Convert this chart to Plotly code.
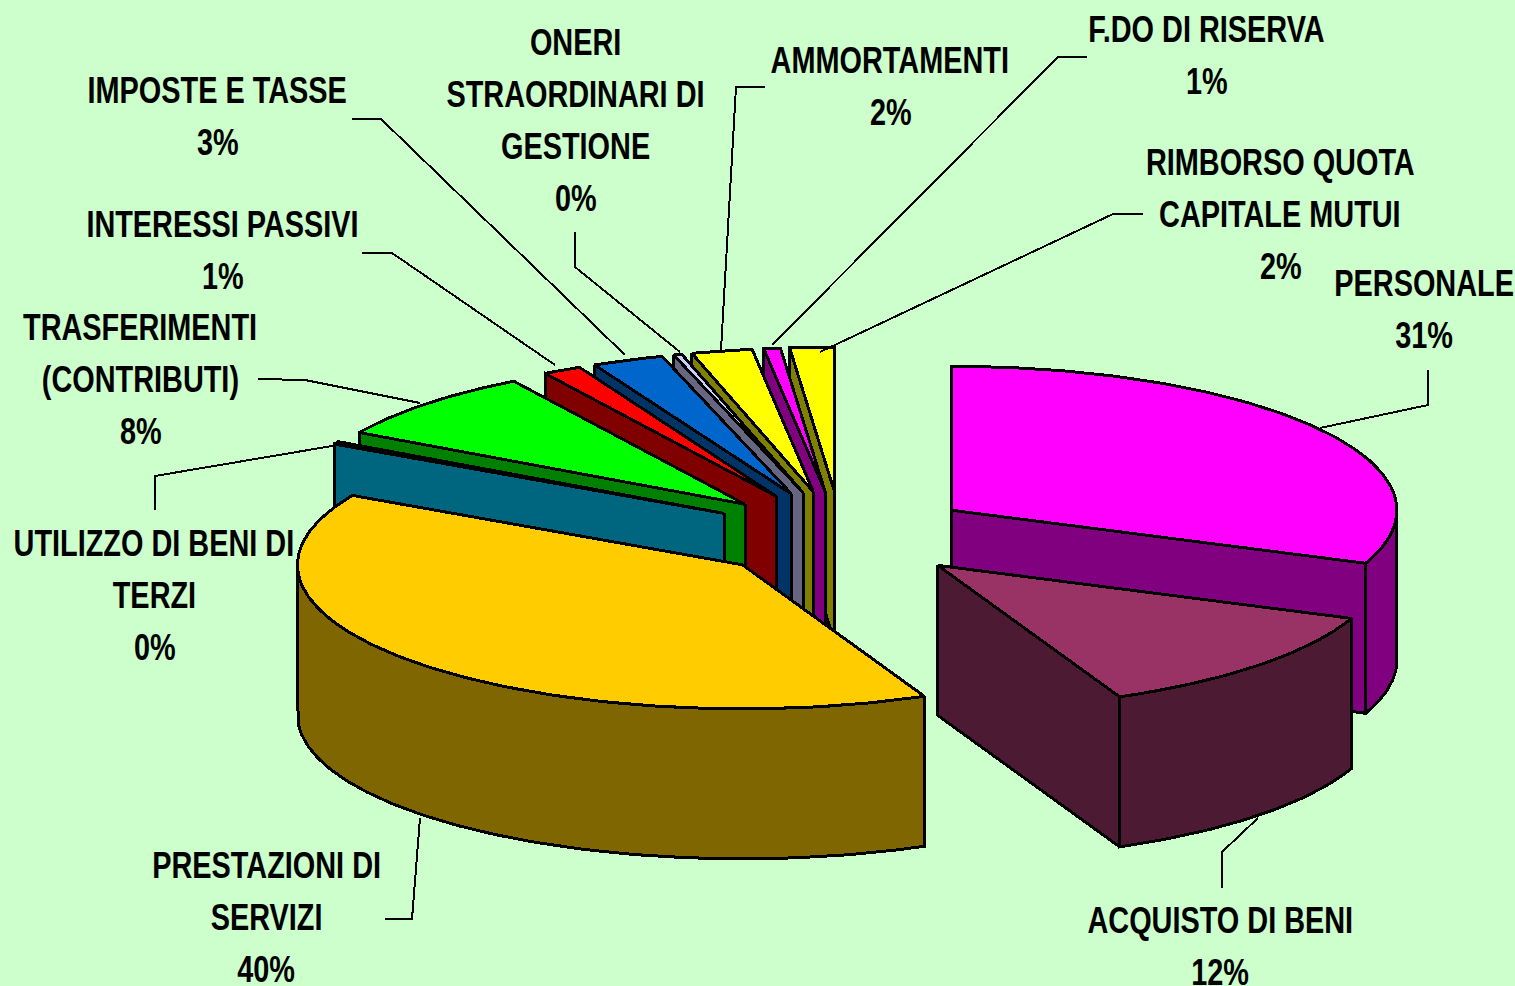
import math
import plotly.graph_objects as go

categories = ["PERSONALE", "ACQUISTO DI BENI", "PRESTAZIONI DI SERVIZI", "UTILIZZO DI BENI DI TERZI",
              "TRASFERIMENTI (CONTRIBUTI)", "INTERESSI PASSIVI", "IMPOSTE E TASSE",
              "ONERI STRAORDINARI DI GESTIONE", "AMMORTAMENTI", "F.DO DI RISERVA",
              "RIMBORSO QUOTA CAPITALE MUTUI"]
values = [31.0, 12.3, 39.7, 0.3, 8.0, 1.4, 2.6, 0.3, 2.2, 0.6, 1.6]
percent_labels = ["31%", "12%", "40%", "0%", "8%", "1%", "3%", "0%", "2%", "1%", "2%"]
wrapped = [["PERSONALE"], ["ACQUISTO DI BENI"], ["PRESTAZIONI DI", "SERVIZI"],
           ["UTILIZZO DI BENI DI", "TERZI"], ["TRASFERIMENTI", "(CONTRIBUTI)"],
           ["INTERESSI PASSIVI"], ["IMPOSTE E TASSE"],
           ["ONERI", "STRAORDINARI DI", "GESTIONE"], ["AMMORTAMENTI"], ["F.DO DI RISERVA"],
           ["RIMBORSO QUOTA", "CAPITALE MUTUI"]]
top_colors = ["#FF00FF", "#993366", "#FFCC00", "#00CCFF", "#00FF00", "#FF0000",
              "#0066CC", "#CCCCFF", "#FFFF00", "#FF00FF", "#FFFF00"]
side_colors = ["#800080", "#4C1B33", "#806600", "#006680", "#008000", "#800000",
               "#003366", "#666680", "#808000", "#800080", "#808000"]

# label block: x centre, y centre of first line
label_pos = [(1424, 283), (1220, 920), (266, 865), (154, 543), (140, 327), (222, 224),
             (217, 90), (575, 42), (890, 60), (1206, 29), (1280, 162)]
# leader polylines
leaders = [
    [(1428, 370), (1428, 405), (1320, 428)],
    [(1222, 888), (1222, 852), (1258, 818)],
    [(385, 919), (412, 919), (420, 818)],
    [(155, 510), (155, 476), (338, 445)],
    [(258, 379), (305, 380), (420, 403)],
    [(362, 253), (392, 253), (555, 365)],
    [(352, 119), (381, 119), (625, 355)],
    [(575, 232), (575, 267), (680, 352)],
    [(765, 87), (736, 87), (721, 350)],
    [(1087, 57), (1058, 57), (772, 345)],
    [(1143, 214), (1113, 214), (820, 352)],
]

CX, CY = 841, 535      # pie centre
RX, RY = 445, 144      # ellipse radii
EX, EY = 134, 44       # explosion
DEPTH = 150
LW = 3
BG = "#CCFFCC"
FONT = dict(family="Liberation Sans, Arial", size=37, color="#000000", weight="bold")
LINE_GAP = 52
TEXT_SQUEEZE = 0.78    # reference lettering is a condensed bold face

fig = go.Figure()


def poly(pts, color):
    xs = [p[0] for p in pts] + [pts[0][0]]
    ys = [p[1] for p in pts] + [pts[0][1]]
    fig.add_trace(go.Scatter(x=xs, y=ys, mode="lines", fill="toself", fillcolor=color,
                             line=dict(color="#000000", width=LW), hoverinfo="skip",
                             showlegend=False))


def arc(ax, ay, a0, a1):
    n = max(2, int(abs(a1 - a0) / 1.0) + 1)
    out = []
    for i in range(n + 1):
        t = math.radians(a0 + (a1 - a0) * i / n)
        out.append((ax + RX * math.sin(t), ay - RY * math.cos(t)))
    return out


def draw_slice(i, a0, a1):
    m = math.radians((a0 + a1) / 2)
    ax, ay = CX + EX * math.sin(m), CY - EY * math.cos(m)
    s0, s1 = math.radians(a0), math.radians(a1)
    # radial faces
    if math.sin(s0) < -1e-6:
        r = arc(ax, ay, a0, a0)[0]
        poly([(ax, ay), r, (r[0], r[1] + DEPTH), (ax, ay + DEPTH)], side_colors[i])
    if math.sin(s1) > 1e-6:
        r = arc(ax, ay, a1, a1)[0]
        poly([(ax, ay), r, (r[0], r[1] + DEPTH), (ax, ay + DEPTH)], side_colors[i])
    # outer rim
    lo, hi = max(a0, 90), min(a1, 270)
    if hi > lo:
        up = arc(ax, ay, lo, hi)
        poly(up + [(x, y + DEPTH) for x, y in reversed(up)], side_colors[i])
    # top
    poly([(ax, ay)] + arc(ax, ay, a0, a1), top_colors[i])


total = sum(values)
bounds = [0.0]
for v in values:
    bounds.append(bounds[-1] + v / total * 360)

# painter's order: small back slices last-to-first, then the big front ones
order = list(range(len(values) - 1, 2, -1)) + [2, 0, 1]
for i in order:
    draw_slice(i, bounds[i], bounds[i + 1])

for pts in leaders:
    fig.add_trace(go.Scatter(x=[p[0] for p in pts], y=[p[1] for p in pts], mode="lines",
                             line=dict(color="#000000", width=2), hoverinfo="skip",
                             showlegend=False))

for i, lines in enumerate(wrapped):
    x0, y0 = label_pos[i]
    for k, txt in enumerate(lines + [percent_labels[i]]):
        fig.add_annotation(x=x0, y=y0 + k * LINE_GAP, text=txt, showarrow=False,
                           xanchor="center", yanchor="middle", font=FONT)

fig.update_layout(width=1515, height=986, margin=dict(l=0, r=0, t=0, b=0),
                  paper_bgcolor=BG, plot_bgcolor=BG, showlegend=False,
                  xaxis=dict(range=[0, 1515], visible=False, fixedrange=True),
                  yaxis=dict(range=[986, 0], visible=False, fixedrange=True))

post = """
document.body.style.margin='0';document.body.style.background='#CCFFCC';
function tune(){
  document.querySelectorAll('.annotation-text').forEach(function(t){
    if(t.dataset.squeezed) return;
    var w=t.getComputedTextLength();
    if(!w) return;
    t.setAttribute('lengthAdjust','spacingAndGlyphs');
    t.setAttribute('textLength',(w*%s).toFixed(1));
    t.dataset.squeezed='1';
  });
  document.querySelectorAll('.scatterlayer path').forEach(function(p){
    p.style.shapeRendering='crispEdges';
  });
}
tune();setTimeout(tune,50);setTimeout(tune,300);
""" % TEXT_SQUEEZE
fig.write_html("out.html", config=dict(displayModeBar=False), post_script=post)
